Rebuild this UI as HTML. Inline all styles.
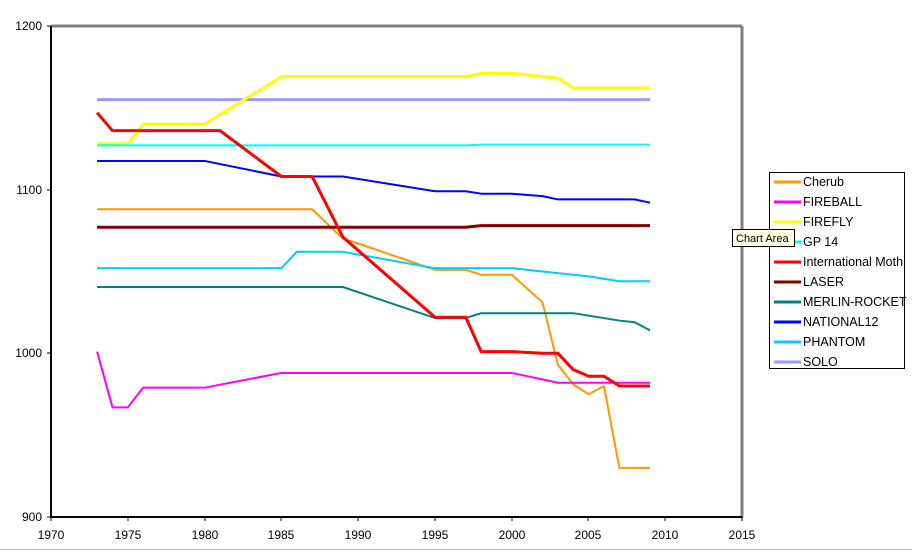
<!DOCTYPE html>
<html><head><meta charset="utf-8"><style>
html,body{margin:0;padding:0;background:#fff;}
svg{display:block;font-family:"Liberation Sans",Arial,sans-serif;}
</style></head><body>
<svg width="912" height="552" viewBox="0 0 912 552" xmlns="http://www.w3.org/2000/svg">
<rect width="912" height="552" fill="#fff"/>
<line x1="51" y1="26" x2="742" y2="26" stroke="#808080" stroke-width="3"/>
<line x1="742" y1="26" x2="742" y2="518" stroke="#808080" stroke-width="3"/>
<line x1="51" y1="26" x2="51" y2="518" stroke="#000" stroke-width="2"/>
<line x1="51" y1="517" x2="742" y2="517" stroke="#000" stroke-width="2"/>
<g stroke="#000" stroke-width="1">
<line x1="47" y1="26" x2="51" y2="26"/><line x1="47" y1="190" x2="51" y2="190"/>
<line x1="47" y1="353" x2="51" y2="353"/><line x1="47" y1="517" x2="51" y2="517"/>
<line x1="51" y1="517" x2="51" y2="521"/><line x1="128" y1="517" x2="128" y2="521"/>
<line x1="205" y1="517" x2="205" y2="521"/><line x1="281" y1="517" x2="281" y2="521"/>
<line x1="358" y1="517" x2="358" y2="521"/><line x1="435" y1="517" x2="435" y2="521"/>
<line x1="512" y1="517" x2="512" y2="521"/><line x1="588" y1="517" x2="588" y2="521"/>
<line x1="665" y1="517" x2="665" y2="521"/><line x1="742" y1="517" x2="742" y2="521"/>
</g>
<g font-size="12" fill="#000" text-anchor="end">
<text x="42" y="30">1200</text><text x="42" y="194">1100</text>
<text x="42" y="357">1000</text><text x="42" y="521">900</text>
</g>
<g font-size="12" fill="#000" text-anchor="middle">
<text x="51" y="539">1970</text><text x="128" y="539">1975</text><text x="205" y="539">1980</text>
<text x="281" y="539">1985</text><text x="358" y="539">1990</text><text x="435" y="539">1995</text>
<text x="512" y="539">2000</text><text x="588" y="539">2005</text><text x="665" y="539">2010</text>
<text x="742" y="539">2015</text>
</g>
<g transform="translate(51,517) scale(15.36,-1.637) translate(-1970,-900)" fill="none" stroke-width="2" stroke-linejoin="round">
<polyline vector-effect="non-scaling-stroke" stroke="#9999ff" stroke-width="3" points="1973,1155 2009,1155"/>
<polyline vector-effect="non-scaling-stroke" stroke="#ffff00" stroke-width="3" points="1973,1128 1975,1128 1976,1140 1980,1140 1985,1169 1997,1169 1998,1171 2000,1171 2003,1168 2004,1162 2009,1162"/>
<polyline vector-effect="non-scaling-stroke" stroke="#00ffff" points="1973,1127 1997,1127 1998,1127.5 2009,1127.5"/>
<polyline vector-effect="non-scaling-stroke" stroke="#0000ff" points="1973,1117.5 1980,1117.5 1985,1108 1989,1108 1995,1099 1997,1099 1998,1097.5 2000,1097.5 2002,1096 2003,1094 2008,1094 2009,1092"/>
<polyline vector-effect="non-scaling-stroke" stroke="#ff9900" points="1973,1088 1987,1088 1989,1070 1990,1067 1995,1051 1997,1051 1998,1048 2000,1048 2002,1031 2003,993 2004,981 2005,975 2006,980 2007,930 2009,930"/>
<polyline vector-effect="non-scaling-stroke" stroke="#800000" stroke-width="3" points="1973,1077 1997,1077 1998,1078 2009,1078"/>
<polyline vector-effect="non-scaling-stroke" stroke="#00ccff" points="1973,1052 1985,1052 1986,1062 1989,1062 1995,1052 2000,1052 2002,1050 2003,1049 2005,1047 2007,1044 2009,1044"/>
<polyline vector-effect="non-scaling-stroke" stroke="#008080" points="1973,1040.5 1989,1040.5 1995,1021.5 1997,1021.5 1998,1024.5 2004,1024.5 2007,1020 2008,1019 2009,1014"/>
<polyline vector-effect="non-scaling-stroke" stroke="#ff00ff" points="1973,1001 1974,967 1975,967 1976,979 1980,979 1985,988 2000,988 2003,982 2009,982"/>
<polyline vector-effect="non-scaling-stroke" stroke="#ff0000" stroke-width="3" points="1973,1147 1974,1136 1981,1136 1985,1108 1987,1108 1989,1071 1995,1022 1997,1022 1998,1001 2000,1001 2002,1000 2003,1000 2004,990 2005,986 2006,986 2007,980 2009,980"/>
</g>
<rect x="769.5" y="172.5" width="135" height="196" fill="#fff" stroke="#000" stroke-width="1"/>
<g stroke-width="3">
<line x1="774" y1="182" x2="801" y2="182" stroke="#ff9900"/>
<line x1="774" y1="202" x2="801" y2="202" stroke="#ff00ff"/>
<line x1="774" y1="222" x2="801" y2="222" stroke="#ffff00"/>
<line x1="774" y1="242" x2="801" y2="242" stroke="#00ffff"/>
<line x1="774" y1="262" x2="801" y2="262" stroke="#ff0000"/>
<line x1="774" y1="282" x2="801" y2="282" stroke="#800000"/>
<line x1="774" y1="302" x2="801" y2="302" stroke="#008080"/>
<line x1="774" y1="322" x2="801" y2="322" stroke="#0000ff"/>
<line x1="774" y1="342" x2="801" y2="342" stroke="#00ccff"/>
<line x1="774" y1="362" x2="801" y2="362" stroke="#9999ff"/>
</g>
<svg x="769" y="172" width="139" height="196">
<g font-size="12.5" fill="#000">
<text x="34" y="14">Cherub</text><text x="34" y="34">FIREBALL</text><text x="34" y="54">FIREFLY</text>
<text x="34" y="74">GP 14</text><text x="34" y="94">International Moth</text><text x="34" y="114">LASER</text>
<text x="34" y="134">MERLIN-ROCKET</text><text x="34" y="154">NATIONAL12</text><text x="34" y="174">PHANTOM</text>
<text x="34" y="194">SOLO</text>
</g></svg>
<rect x="732.5" y="229.5" width="62" height="17" fill="#ffffe1" stroke="#000" stroke-width="1"/>
<text x="736" y="242" font-size="11" fill="#000">Chart Area</text>
<line x1="0" y1="549.5" x2="912" y2="549.5" stroke="#c0c0c0"/>
</svg>
</body></html>
